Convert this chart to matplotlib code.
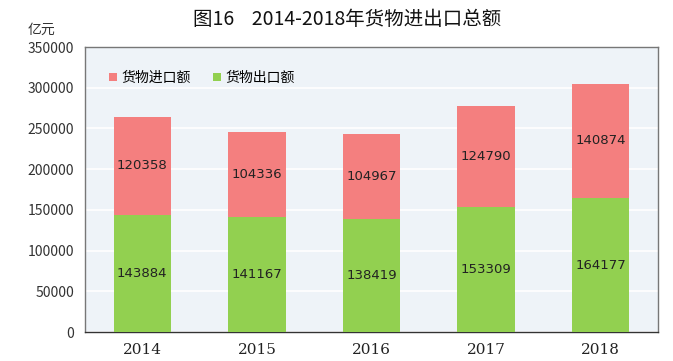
import numpy as np
import matplotlib.pyplot as plt

plt.rcParams['font.family'] = ['Noto Sans CJK SC', 'DejaVu Sans']

years = ['2014', '2015', '2016', '2017', '2018']
exports = [143884, 141167, 138419, 153309, 164177]
imports = [120358, 104336, 104967, 124790, 140874]

green = '#92d050'
red = '#f47f7f'

fig = plt.figure(figsize=(6.73, 3.61), dpi=100)
ax = fig.add_axes([0.1263, 0.0803, 0.8514, 0.7895])
ax.set_facecolor('#eef3f8')

x = np.arange(len(years))
ax.bar(x, exports, width=0.5, color=green, label='货物出口额', zorder=3)
ax.bar(x, imports, width=0.5, bottom=exports, color=red, label='货物进口额', zorder=3)

for i in range(len(years)):
    ax.text(x[i], exports[i] / 2, str(exports[i]), ha='center', va='center',
            fontsize=9.5, color='#222222', family='DejaVu Sans', zorder=4)
    ax.text(x[i], exports[i] + imports[i] / 2, str(imports[i]), ha='center', va='center',
            fontsize=9.5, color='#222222', family='DejaVu Sans', zorder=4)

ax.set_xlim(-0.5, len(years) - 0.5)
ax.set_ylim(0, 350000)
ax.set_yticks(np.arange(0, 350001, 50000))
ax.set_yticklabels([str(v) for v in range(0, 350001, 50000)], fontsize=10, color='#333333')
ax.set_xticks(x)
ax.set_xticklabels(years, fontsize=11, family='DejaVu Serif', color='#222222')
ax.tick_params(length=0, pad=8)
ax.grid(axis='y', color='white', linewidth=1.2, zorder=1)

for s in ax.spines.values():
    s.set_color('#777777')
    s.set_linewidth(1.0)
ax.spines['bottom'].set_color('#333333')

handles, labels = ax.get_legend_handles_labels()
leg = ax.legend(handles[::-1], labels[::-1], loc='upper left', ncol=2, frameon=False,
                fontsize=10, handlelength=0.6, handleheight=0.6, handletextpad=0.3,
                columnspacing=1.6, bbox_to_anchor=(0.02, 0.96))

fig.text(0.516, 0.945, '图16    2014-2018年货物进出口总额', ha='center', va='center',
         fontsize=14, fontweight='medium', color='#111111')
fig.text(0.062, 0.918, '亿元', ha='center', va='center', fontsize=10, color='#333333')

fig.savefig('out.png', dpi=100)
